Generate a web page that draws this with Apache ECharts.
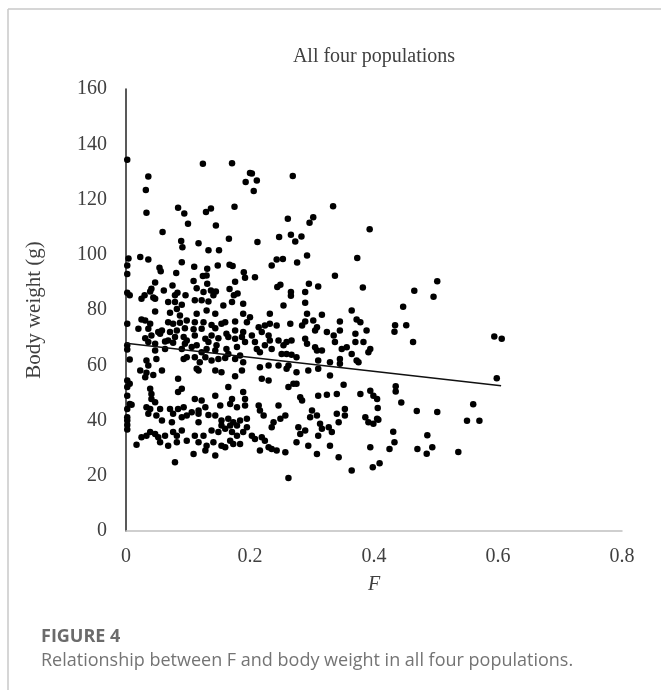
<!DOCTYPE html>
<html>
<head>
<meta charset="utf-8">
<script src="https://cdn.jsdelivr.net/npm/echarts@6/dist/echarts.min.js"></script>
<style>
  html, body { margin: 0; padding: 0; background: #fff; }
  #mainChart { width: 661px; height: 690px; }
</style>
</head>
<body>
<div id="mainChart"></div>
<script>
// F / body weight (g) pairs

// upper left: F 0 - 0.2, weight above ~84
var upperLeft = [
    [0.002,134.4],[0.124,132.9],[0.171,133.1],[0.200,129.6],[0.193,126.3],[0.036,128.3],[0.032,123.4],[0.033,115.2],
    [0.084,117.0],[0.094,114.9],[0.100,111.2],[0.129,115.5],[0.137,116.7],[0.175,117.4],[0.145,110.6],[0.059,108.2],
    [0.089,105.0],[0.091,102.7],[0.117,104.2],[0.133,101.6],[0.150,101.6],[0.166,105.8],[0.004,98.6],[0.002,96.1],
    [0.002,93.0],[0.023,99.2],[0.036,98.3],[0.054,95.3],[0.056,94.0],[0.090,97.3],[0.110,95.7],[0.131,94.9],
    [0.148,96.1],[0.167,96.4],[0.172,95.9],[0.190,93.7],[0.192,91.7],[0.081,93.4],[0.047,90.0],[0.124,92.3],
    [0.130,92.5],[0.109,90.5],[0.131,89.5],[0.075,88.9],[0.114,87.9],[0.176,90.2],[0.167,87.6],[0.061,87.1],
    [0.039,86.7],[0.041,87.7],[0.002,86.2],[0.006,85.3],[0.125,86.5],[0.137,87.1],[0.145,86.7],[0.141,85.3],
    [0.083,86.2],[0.079,85.3],[0.030,85.3],[0.180,86.0],[0.174,85.3],[0.044,84.5],[0.096,85.3]
];

// lower left: F 0 - 0.2, weight below ~84
var lowerLeft = [
    [0.025,84.1],[0.047,84.1],[0.068,82.9],[0.079,82.9],[0.090,81.9],[0.111,83.5],[0.122,83.5],[0.133,83.1],[0.157,81.6],[0.171,82.9],[0.189,82.3],
    [0.047,79.5],[0.071,79.0],[0.082,80.4],[0.087,78.0],[0.114,78.6],[0.130,79.8],[0.144,78.6],[0.189,78.6],
    [0.002,75.0],[0.025,76.6],[0.031,76.2],[0.039,75.0],[0.068,75.6],[0.076,75.0],[0.087,75.4],[0.098,76.2],[0.111,75.6],[0.125,75.6],[0.138,74.6],[0.154,75.0],[0.160,75.6],[0.176,75.8],[0.195,75.6],
    [0.020,73.2],[0.036,73.2],[0.052,72.0],[0.058,72.6],[0.071,72.0],[0.082,72.6],[0.095,73.4],[0.109,73.0],[0.122,73.2],[0.144,73.4],[0.162,71.4],[0.176,72.6],[0.189,72.0],
    [0.031,69.8],[0.041,70.8],[0.055,71.4],[0.068,69.0],[0.079,70.2],[0.093,70.2],[0.098,69.0],[0.111,70.8],[0.128,69.6],[0.138,70.8],[0.149,69.8],[0.165,70.2],[0.176,69.6],[0.187,70.2],
    [0.002,67.2],[0.036,68.4],[0.047,67.8],[0.063,68.6],[0.076,68.1],[0.095,67.8],[0.114,67.2],[0.133,68.4],[0.146,67.2],[0.162,65.9],[0.179,66.6],[0.192,68.4],
    [0.002,65.7],[0.047,65.3],[0.063,65.9],[0.090,65.9],[0.106,66.6],[0.122,64.7],[0.130,65.9],[0.144,65.3],[0.165,64.1],[0.184,63.5],
    [0.006,62.1],[0.033,61.7],[0.049,62.3],[0.093,62.3],[0.098,62.9],[0.111,62.9],[0.119,61.1],[0.128,62.9],[0.138,61.7],[0.149,62.3],[0.160,62.6],[0.176,62.3],[0.189,61.1],
    [0.036,59.9],[0.023,58.1],[0.033,57.3],[0.044,56.5],[0.058,58.1],[0.114,58.7],[0.117,58.1],[0.144,58.1],[0.154,57.5],[0.187,58.1],[0.176,56.0],[0.031,55.7],
    [0.084,55.1],[0.002,54.5],[0.006,53.3],[0.002,52.1],
    [0.039,51.5],[0.041,49.6],[0.090,51.5],[0.084,50.3],[0.144,49.0],[0.165,52.1],[0.189,50.3],[0.002,49.0],[0.171,47.8],[0.006,46.0],
    [0.041,47.8],[0.047,46.6],[0.111,47.8],[0.122,47.2],[0.192,47.8],[0.009,45.7],[0.033,44.8],[0.039,44.2],[0.055,44.2],[0.071,44.2],
    [0.084,44.2],[0.093,44.8],[0.106,43.0],[0.117,43.6],[0.128,44.8],[0.152,45.4],[0.168,46.0],[0.179,44.8],[0.192,45.4],[0.002,44.2],
    [0.002,41.2],[0.002,40.0],[0.002,38.4],[0.036,42.4],[0.049,41.8],[0.076,42.4],[0.090,41.2],[0.098,41.8],[0.117,42.4],[0.133,42.0],[0.144,41.8],
    [0.154,40.0],[0.165,40.6],[0.173,39.4],[0.184,40.0],[0.195,40.6],[0.074,39.4],[0.117,39.4],[0.154,38.2],[0.168,38.2],[0.179,38.2],[0.058,40.0],
    [0.002,36.7],[0.039,35.8],[0.033,34.5],[0.025,33.9],[0.047,35.1],[0.052,33.9],[0.063,34.5],[0.076,35.8],[0.082,34.5],[0.090,36.4],
    [0.111,34.5],[0.125,34.5],[0.138,36.4],[0.149,35.8],[0.160,37.0],[0.171,35.8],[0.179,34.5],[0.189,35.8],[0.195,37.6],
    [0.017,31.2],[0.055,32.1],[0.068,30.9],[0.082,32.1],[0.098,32.7],[0.117,32.1],[0.130,30.9],[0.141,32.1],[0.154,30.9],[0.168,32.7],
    [0.173,31.5],[0.184,31.5],[0.109,27.9],[0.128,29.1],[0.144,27.3],[0.160,30.3]
];

// upper middle: F 0.2 - 0.4, weight above ~84
var upperMiddle = [
    [0.203,129.4],[0.211,126.9],[0.206,123.1],[0.269,128.5],[0.334,117.6],[0.261,113.0],[0.296,111.6],[0.302,113.6],
    [0.393,109.2],[0.212,104.6],[0.247,106.4],[0.266,107.2],[0.283,106.6],[0.273,104.8],[0.235,96.1],[0.243,98.3],
    [0.253,98.5],[0.276,97.2],[0.292,99.7],[0.373,98.8],[0.208,91.9],[0.337,92.4],[0.244,88.3],[0.249,89.1],
    [0.266,86.5],[0.266,85.2],[0.289,86.5],[0.295,89.5],[0.310,88.5],[0.382,88.1]
];

// lower middle: F 0.2 - 0.4, weight below ~84
var lowerMiddle = [
    [0.254,81.6],[0.289,82.6],[0.232,78.6],[0.292,78.6],[0.316,78.3],[0.364,79.8],[0.200,77.4],[0.289,75.8],[0.302,76.2],[0.345,75.8],
    [0.372,76.6],[0.378,75.6],[0.214,73.8],[0.224,74.4],[0.219,72.0],[0.232,75.0],[0.243,74.4],[0.265,75.0],[0.284,74.4],[0.308,73.8],
    [0.305,72.6],[0.324,72.0],[0.335,70.8],[0.345,72.6],[0.370,71.4],[0.388,72.6],[0.203,70.8],[0.208,68.4],[0.230,70.8],[0.232,69.0],
    [0.246,69.0],[0.259,68.4],[0.267,69.0],[0.254,67.2],[0.289,69.6],[0.292,67.8],[0.305,66.5],[0.316,65.3],[0.337,68.4],[0.348,65.9],
    [0.356,66.5],[0.370,68.4],[0.383,68.4],[0.394,65.9],[0.391,64.7],[0.211,65.9],[0.216,64.7],[0.224,67.2],[0.235,65.9],[0.259,64.1],
    [0.275,62.9],[0.251,64.1],[0.267,63.8],[0.308,65.3],[0.310,61.7],[0.329,61.1],[0.345,62.3],[0.345,60.5],[0.364,64.1],[0.372,61.7],
    [0.375,61.1],[0.216,59.3],[0.230,59.9],[0.246,59.9],[0.259,58.7],[0.262,59.9],[0.275,57.5],[0.294,58.1],[0.310,58.7],[0.329,56.3],
    [0.219,55.1],[0.230,54.5],[0.262,52.1],[0.270,53.3],[0.275,53.3],[0.281,48.4],[0.284,47.2],[0.310,49.0],[0.324,49.3],[0.340,49.6],
    [0.351,52.9],[0.378,49.6],[0.394,50.8],[0.399,49.0],[0.405,47.8],[0.214,45.4],[0.216,43.6],[0.222,41.8],[0.246,45.4],[0.257,41.8],
    [0.249,40.6],[0.238,39.4],[0.235,37.6],[0.300,43.6],[0.297,41.2],[0.308,41.8],[0.313,38.8],[0.316,37.0],[0.310,34.5],[0.327,37.6],
    [0.332,35.8],[0.340,42.4],[0.343,39.4],[0.353,44.2],[0.353,41.8],[0.386,41.2],[0.391,39.4],[0.399,38.8],[0.405,40.6],[0.278,37.6],
    [0.289,36.4],[0.281,35.1],[0.275,32.1],[0.203,34.5],[0.208,33.3],[0.219,33.9],[0.224,32.7],[0.216,29.1],[0.230,30.3],[0.235,29.7],
    [0.243,29.1],[0.257,28.5],[0.294,30.9],[0.308,27.9],[0.329,30.9],[0.343,26.7],[0.394,30.3]
];

// right side: F above 0.4
var rightSide = [
    [0.502,90.4],[0.465,87.0],[0.496,84.8],[0.447,81.2],[0.434,74.5],[0.452,74.5],[0.433,72.1],[0.463,68.4],
    [0.594,70.4],[0.606,69.6],[0.598,55.3],[0.435,52.4],[0.435,50.5],[0.406,44.5],[0.407,40.3],[0.444,46.5],
    [0.469,43.4],[0.502,43.1],[0.560,45.9],[0.550,39.9],[0.570,39.9],[0.431,35.9],[0.433,32.1],[0.486,34.7],
    [0.425,29.7],[0.470,29.7],[0.485,28.0],[0.494,30.3],[0.536,28.6]
];

// the few lightest birds
var bottomRow = [[0.079,24.9],[0.364,21.9],[0.398,23.1],[0.409,24.5],[0.262,19.2]];

// linear trend line end points
var trendF = [0, 0.605];
var trendW = [68.0, 52.6];

var xTicks = [0, 0.2, 0.4, 0.6, 0.8];
var yTicks = [0, 20, 40, 60, 80, 100, 120, 140, 160];

var serif = '"Liberation Serif", "DejaVu Serif", serif';
var textColor = '#404040';

var myChart = echarts.init(document.getElementById('mainChart'));

var points = upperLeft.concat(lowerLeft, upperMiddle, lowerMiddle, rightSide, bottomRow);
var trendData = trendF.map(function(f, i) { return [f, trendW[i]]; });

myChart.setOption({
    backgroundColor: '#ffffff',
    animation: false,
    grid: {
        left: 126,
        right: 39,
        top: 89,
        bottom: 159
    },
    xAxis: {
        type: 'value',
        min: xTicks[0],
        max: xTicks[xTicks.length - 1],
        interval: 0.2,
        name: 'F',
        nameLocation: 'middle',
        nameGap: 44,
        nameTextStyle: {fontFamily: serif, fontStyle: 'italic', fontSize: 20, color: textColor},
        axisLine: {lineStyle: {color: '#c0c0c0', width: 1.5}},
        axisTick: {show: false},
        splitLine: {show: false},
        axisLabel: {margin: 16, fontFamily: serif, fontSize: 20, color: textColor}
    },
    yAxis: {
        type: 'value',
        min: yTicks[0],
        max: yTicks[yTicks.length - 1],
        interval: 20,
        name: 'Body weight (g)',
        nameLocation: 'middle',
        nameGap: 81,
        nameTextStyle: {fontFamily: serif, fontSize: 21, color: textColor},
        axisLine: {show: true, lineStyle: {color: '#222222', width: 1.5}},
        axisTick: {show: false},
        splitLine: {show: false},
        axisLabel: {margin: 19, fontFamily: serif, fontSize: 20, color: textColor}
    },
    series: [{
        name: 'birds',
        type: 'scatter',
        symbolSize: 6.5,
        itemStyle: {color: '#000000', opacity: 1},
        data: points
    }, {
        name: 'trend',
        type: 'line',
        symbol: 'none',
        lineStyle: {color: '#111111', width: 1.5},
        data: trendData,
        z: 3
    }],
    graphic: [
        // frame
        {type: 'line', shape: {x1: 8, y1: 9, x2: 661, y2: 9}, style: {stroke: '#c8c8c8', lineWidth: 1.5}},
        {type: 'line', shape: {x1: 8, y1: 9, x2: 8, y2: 690}, style: {stroke: '#c8c8c8', lineWidth: 1.5}},
        // chart title
        {type: 'text', x: 374, y: 57, style: {text: 'All four populations', fill: textColor, font: '20px ' + serif, textAlign: 'center', textVerticalAlign: 'middle'}},
        // caption
        {type: 'text', x: 41, y: 637, style: {text: 'FIGURE 4', fill: '#6b6b6b', font: 'bold 18px "Open Sans", Lato, sans-serif', textVerticalAlign: 'middle'}},
        {type: 'text', x: 41, y: 661, style: {text: 'Relationship between F and body weight in all four populations.', fill: '#747474', font: '18px "Open Sans", Lato, sans-serif', textVerticalAlign: 'middle'}}
    ]
});
</script>
</body>
</html>
